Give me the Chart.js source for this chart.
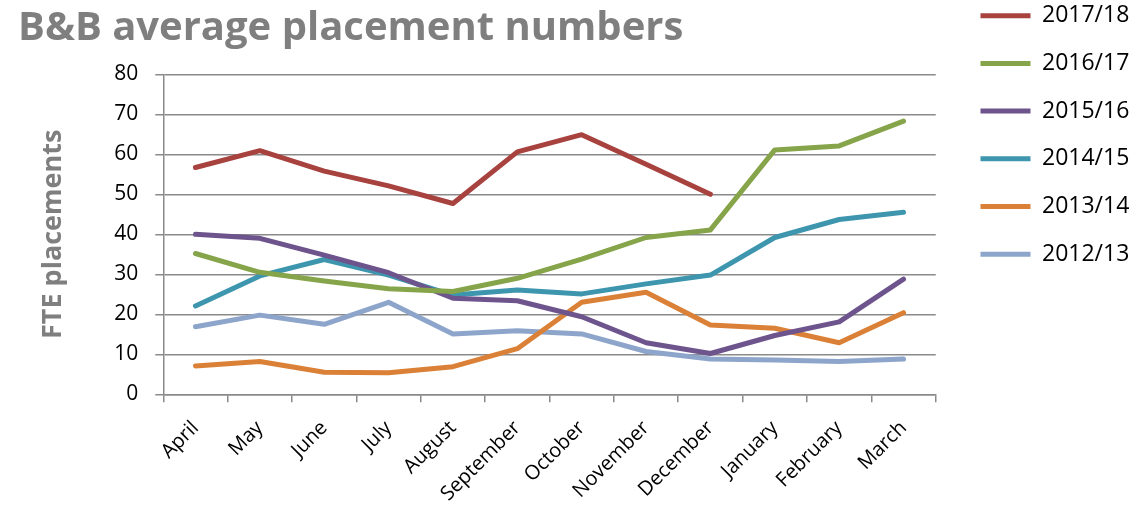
<!DOCTYPE html>
<html>
<head>
<meta charset="utf-8">
<title>B&amp;B average placement numbers</title>
<script src="https://cdn.jsdelivr.net/npm/chart.js@4/dist/chart.umd.min.js"></script>
<style>
  html, body { margin: 0; padding: 0; background: #fff; }
  #wrap { width: 1141px; height: 515px; }
</style>
</head>
<body>
<div id="wrap"><canvas id="placementsChart"></canvas></div>
<script>
// months of the financial year
const months = ["April", "May", "June", "July", "August", "September",
  "October", "November", "December", "January", "February", "March"];

const seasons = ["2017/18", "2016/17", "2015/16", "2014/15", "2013/14", "2012/13"];

// average FTE placements per month
const placements1718 = [56.7, 60.9, 55.8, 52.1, 47.7, 60.6, 64.9, 57.5, 50.0, null, null, null];
const placements1617 = [35.2, 30.5, 28.3, 26.4, 25.7, 29.0, 33.8, 39.2, 41.1, 61.1, 62.1, 68.3];
const placements1516 = [40.0, 39.0, 34.8, 30.4, 24.0, 23.4, 19.4, 12.9, 10.2, 14.7, 18.1, 28.8];
const placements1415 = [22.1, 29.6, 33.7, 29.8, 24.8, 26.1, 25.1, 27.6, 29.8, 39.2, 43.7, 45.5];
const placements1314 = [7.1, 8.2, 5.5, 5.4, 6.9, 11.4, 23.0, 25.5, 17.3, 16.5, 12.9, 20.4];
const placements1213 = [16.9, 19.8, 17.5, 23.0, 15.1, 15.9, 15.1, 10.7, 8.8, 8.6, 8.2, 8.8];

const yTicks = [0, 10, 20, 30, 40, 50, 60, 70, 80];

const seriesValues = [placements1718, placements1617, placements1516,
  placements1415, placements1314, placements1213];
const seriesColours = ["#A8423F", "#86A44A", "#6E548D", "#3D96AE", "#DA8137", "#8EA5CB"];

const gridGrey = "#8a8a8a";
const titleGrey = "#7f7f7f";
const font = "'Open Sans'";

// keep the legend in the top right corner, like the original
const legendPlacement = {
  id: "legendPlacement",
  beforeInit(chart) {
    const fit = chart.legend.fit;
    chart.legend.fit = function () {
      fit.call(this);
      this.width = 205.3;
    };
  },
  afterLayout(chart) {
    chart.legend.left = 955.8;
    chart.legend.top = -20.5;
  },
};

new Chart(document.getElementById("placementsChart").getContext("2d"), {
  type: "line",
  data: {
    labels: months,
    datasets: seasons.map((season, i) => ({
      label: season,
      data: seriesValues[i],
      borderColor: seriesColours[i],
      backgroundColor: seriesColours[i],
      borderWidth: 5,
      borderCapStyle: "round",
      borderJoinStyle: "round",
      pointRadius: 0,
      pointHoverRadius: 0,
      tension: 0,
      fill: false,
    })),
  },
  options: {
    responsive: true,
    maintainAspectRatio: false,
    animation: false,
    layout: { padding: { left: 18, right: 0, top: 0, bottom: 0 } },
    plugins: {
      title: {
        display: true,
        text: "B&B average placement numbers",
        align: "start",
        color: titleGrey,
        font: { family: font, size: 40, weight: "bold" },
        padding: { top: 4.5, bottom: 21.8 },
      },
      legend: {
        position: "right",
        align: "start",
        labels: {
          usePointStyle: true,
          pointStyle: "line",
          pointStyleWidth: 50,
          padding: 24.7,
          color: "#000",
          font: { family: font, size: 23 },
        },
      },
      tooltip: { enabled: false },
    },
    scales: {
      x: {
        offset: true,
        grid: {
          offset: true,
          drawOnChartArea: false,
          drawTicks: true,
          tickLength: 8,
          color: gridGrey,
          lineWidth: 1.5,
        },
        border: { color: gridGrey, width: 1.5 },
        ticks: {
          autoSkip: false,
          minRotation: 45,
          maxRotation: 45,
          padding: 14,
          color: "#000",
          font: { family: font, size: 20 },
        },
        afterFit(scale) {
          scale.height = 120.7;
        },
      },
      y: {
        min: yTicks[0],
        max: yTicks[yTicks.length - 1],
        ticks: {
          stepSize: yTicks[1] - yTicks[0],
          padding: 17,
          color: "#000",
          font: { family: font, size: 21 },
        },
        grid: { color: gridGrey, lineWidth: 1.5, tickLength: 8 },
        border: { color: gridGrey, width: 1.5 },
        title: {
          display: true,
          text: "FTE placements",
          color: titleGrey,
          font: { family: font, size: 27, weight: "bold" },
          padding: { top: 18.8, bottom: 0 },
        },
        afterFit(scale) {
          scale.width = 145.3;
        },
      },
    },
  },
  plugins: [legendPlacement],
});
</script>
</body>
</html>
